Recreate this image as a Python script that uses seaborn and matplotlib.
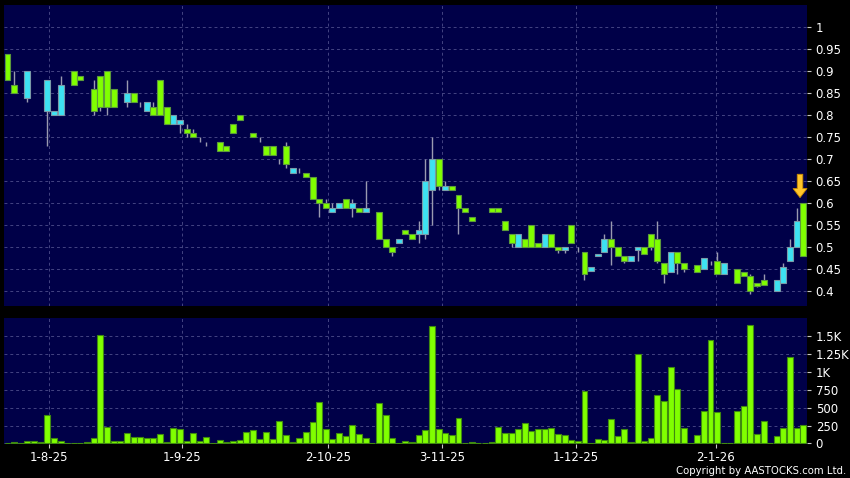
import numpy as np
import pandas as pd
import seaborn as sns
import matplotlib.pyplot as plt

# daily candles, oldest first (about 6 months)
opens = [0.94, 0.87, 0.90, 0.84, 0.85, 0.84, 0.81, 0.80, 0.80, 0.86,
         0.90, 0.89, 0.87, 0.86, 0.89, 0.90, 0.86, 0.83, 0.83, 0.85,
         0.83, 0.81, 0.82, 0.88, 0.82, 0.78, 0.78, 0.77, 0.76, 0.75,
         0.74, 0.74, 0.74, 0.73, 0.78, 0.80, 0.77, 0.76, 0.75, 0.73,
         0.73, 0.70, 0.73, 0.67, 0.68, 0.67, 0.66, 0.61, 0.60, 0.58,
         0.59, 0.61, 0.59, 0.59, 0.58, 0.59, 0.58, 0.52, 0.50, 0.51,
         0.54, 0.53, 0.53, 0.53, 0.63, 0.70, 0.63, 0.64, 0.62, 0.59,
         0.57, 0.58, 0.59, 0.59, 0.59, 0.56, 0.53, 0.50, 0.52, 0.55,
         0.51, 0.50, 0.53, 0.50, 0.493, 0.55, 0.50, 0.49, 0.447, 0.48,
         0.49, 0.52, 0.50, 0.48, 0.47, 0.495, 0.50, 0.53, 0.52, 0.465,
         0.445, 0.49, 0.465, 0.46, 0.46, 0.45, 0.47, 0.47, 0.44, 0.465,
         0.45, 0.445, 0.435, 0.42, 0.425, 0.415, 0.40, 0.42, 0.47, 0.50,
         0.60]
closes = [0.88, 0.85, 0.90, 0.90, 0.85, 0.84, 0.88, 0.81, 0.87, 0.86,
          0.87, 0.88, 0.87, 0.81, 0.82, 0.82, 0.82, 0.83, 0.85, 0.83,
          0.83, 0.83, 0.80, 0.80, 0.78, 0.80, 0.79, 0.76, 0.75, 0.75,
          0.74, 0.74, 0.72, 0.72, 0.76, 0.79, 0.77, 0.75, 0.75, 0.71,
          0.71, 0.70, 0.69, 0.68, 0.68, 0.66, 0.61, 0.60, 0.59, 0.59,
          0.60, 0.59, 0.60, 0.58, 0.59, 0.59, 0.52, 0.50, 0.49, 0.52,
          0.53, 0.52, 0.54, 0.65, 0.70, 0.64, 0.64, 0.63, 0.59, 0.58,
          0.56, 0.58, 0.59, 0.58, 0.58, 0.54, 0.51, 0.53, 0.50, 0.50,
          0.50, 0.53, 0.50, 0.493, 0.50, 0.51, 0.50, 0.44, 0.455, 0.485,
          0.52, 0.50, 0.48, 0.47, 0.48, 0.50, 0.485, 0.50, 0.47, 0.44,
          0.49, 0.465, 0.45, 0.46, 0.445, 0.475, 0.47, 0.44, 0.465, 0.465,
          0.42, 0.435, 0.40, 0.413, 0.415, 0.415, 0.425, 0.455, 0.50, 0.56,
          0.48]
highs = [0.94, 0.90, 0.90, 0.90, 0.85, 0.84, 0.88, 0.81, 0.89, 0.86,
         0.90, 0.89, 0.87, 0.88, 0.89, 0.90, 0.86, 0.83, 0.88, 0.85,
         0.83, 0.83, 0.83, 0.88, 0.82, 0.80, 0.79, 0.78, 0.77, 0.75,
         0.74, 0.74, 0.74, 0.73, 0.78, 0.80, 0.77, 0.76, 0.75, 0.73,
         0.73, 0.70, 0.74, 0.68, 0.68, 0.67, 0.66, 0.61, 0.61, 0.60,
         0.60, 0.61, 0.61, 0.59, 0.65, 0.59, 0.58, 0.52, 0.50, 0.52,
         0.54, 0.53, 0.56, 0.70, 0.75, 0.70, 0.65, 0.64, 0.62, 0.59,
         0.57, 0.58, 0.59, 0.59, 0.59, 0.56, 0.53, 0.53, 0.52, 0.55,
         0.51, 0.53, 0.53, 0.50, 0.50, 0.55, 0.50, 0.49, 0.455, 0.485,
         0.53, 0.56, 0.50, 0.48, 0.48, 0.50, 0.50, 0.53, 0.56, 0.465,
         0.49, 0.49, 0.465, 0.46, 0.46, 0.475, 0.47, 0.49, 0.465, 0.465,
         0.45, 0.445, 0.44, 0.42, 0.44, 0.415, 0.425, 0.465, 0.52, 0.59,
         0.60]
lows = [0.88, 0.85, 0.90, 0.83, 0.85, 0.84, 0.73, 0.80, 0.80, 0.86,
        0.87, 0.88, 0.87, 0.80, 0.81, 0.80, 0.82, 0.83, 0.82, 0.83,
        0.82, 0.81, 0.80, 0.80, 0.78, 0.78, 0.76, 0.75, 0.75, 0.74,
        0.73, 0.74, 0.72, 0.72, 0.76, 0.79, 0.77, 0.75, 0.74, 0.71,
        0.71, 0.69, 0.68, 0.67, 0.67, 0.66, 0.61, 0.57, 0.59, 0.58,
        0.59, 0.59, 0.57, 0.58, 0.58, 0.59, 0.52, 0.50, 0.48, 0.51,
        0.53, 0.52, 0.51, 0.52, 0.55, 0.63, 0.63, 0.63, 0.53, 0.58,
        0.56, 0.58, 0.59, 0.58, 0.58, 0.54, 0.50, 0.50, 0.50, 0.50,
        0.50, 0.50, 0.50, 0.488, 0.488, 0.51, 0.49, 0.425, 0.447, 0.48,
        0.49, 0.46, 0.48, 0.465, 0.47, 0.47, 0.485, 0.495, 0.465, 0.42,
        0.445, 0.44, 0.445, 0.46, 0.445, 0.45, 0.46, 0.44, 0.44, 0.465,
        0.42, 0.435, 0.395, 0.41, 0.415, 0.415, 0.40, 0.42, 0.47, 0.50,
        0.48]
volume = [0, 14, 0, 36, 36, 14, 396, 70, 36, 0,
          0, 0, 14, 70, 1510, 228, 36, 33, 140, 84,
          88, 70, 70, 130, 22, 210, 196, 40, 140, 36,
          93, 0, 46, 18, 32, 51, 153, 191, 56, 153,
          65, 307, 116, 18, 70, 153, 293, 577, 204, 60,
          148, 98, 251, 134, 79, 0, 563, 391, 70, 0,
          32, 25, 121, 186, 1636, 204, 140, 121, 358, 0,
          18, 0, 0, 22, 232, 148, 148, 204, 288, 172,
          204, 204, 218, 130, 112, 46, 37, 735, 0, 60,
          46, 340, 102, 204, 18, 1248, 28, 74, 680, 596,
          1062, 764, 214, 0, 121, 456, 1444, 433, 0, 0,
          447, 521, 1654, 126, 316, 0, 107, 209, 1202, 218,
          260]

date_pos = [6.2, 26.3, 48.4, 65.5, 85.7, 106.8]
date_labels = ['1-8-25', '1-9-25', '2-10-25', '3-11-25', '1-12-25', '2-1-26']
price_ticks = [0.4, 0.45, 0.5, 0.55, 0.6, 0.65, 0.7, 0.75, 0.8, 0.85, 0.9, 0.95, 1.0]
price_labels = ['0.4', '0.45', '0.5', '0.55', '0.6', '0.65', '0.7', '0.75',
                '0.8', '0.85', '0.9', '0.95', '1']
vol_ticks = [0, 250, 500, 750, 1000, 1250, 1500]
vol_labels = ['0', '250', '500', '750', '1K', '1.25K', '1.5K']

df = pd.DataFrame({'open': opens, 'high': highs, 'low': lows,
                   'close': closes, 'volume': volume})
df['idx'] = np.arange(len(df))

navy = '#000048'
green = '#80FF00'
cyan = '#3DE2F2'
grid_c = '#444482'
wick_c = '#9A9AB0'

sns.set_theme(style='dark', rc={'figure.facecolor': 'black',
                                'axes.facecolor': navy,
                                'text.color': 'white',
                                'xtick.color': 'white',
                                'ytick.color': 'white'})
plt.rcParams['font.family'] = ['DejaVu Sans']

fig = plt.figure(figsize=(8.5, 4.78), dpi=100)
ax = fig.add_axes([0.0047, 0.3598, 0.9451, 0.6297])
axv = fig.add_axes([0.0047, 0.0711, 0.9451, 0.2630])

# price candles: cyan = up day, green = down day, grey dash = unchanged
up = df[df['close'] > df['open']]
down = df[df['close'] < df['open']]
flat = df[df['close'] == df['open']]
w = 0.9
ax.vlines(df['idx'], df['low'], df['high'], color=wick_c, lw=1, zorder=2)
ax.bar(up['idx'], up['close'] - up['open'], bottom=up['open'], width=w,
       color=cyan, edgecolor='#7A9AA8', linewidth=0.8, zorder=3)
ax.bar(down['idx'], down['open'] - down['close'], bottom=down['close'], width=w,
       color=green, edgecolor='#5C9A3C', linewidth=0.8, zorder=3)
ax.hlines(flat['idx'] * 1.0, flat['idx'] - w / 2, flat['idx'] + w / 2, color=wick_c,
          lw=1.2, zorder=3)

# marker over the latest candle
last = df.iloc[-1]
ax.annotate('', xy=(last['idx'] - 0.5, last['high'] + 0.013),
            xytext=(last['idx'] - 0.5, last['high'] + 0.066),
            arrowprops=dict(arrowstyle='simple,head_width=1.0,head_length=0.65,tail_width=0.4',
                            fc='#FFC52A', ec='#C88A00', lw=0.6, mutation_scale=10,
                            shrinkA=0, shrinkB=0),
            zorder=5)

ax.set_xlim(-0.53, 120.6)
ax.set_ylim(0.3666, 1.0507)
ax.set_yticks(price_ticks)
ax.set_yticklabels(price_labels)
ax.set_xticks(date_pos)
ax.set_xticklabels([])

# volume bars
sns.barplot(data=df, x='idx', y='volume', native_scale=True, width=0.9,
            color=green, saturation=1, edgecolor='#3F8A10', linewidth=0.8,
            errorbar=None, ax=axv, zorder=3)
axv.set_xlim(-0.53, 120.6)
axv.set_ylim(-8, 1748)
axv.set_yticks(vol_ticks)
axv.set_yticklabels(vol_labels)
axv.set_xticks(date_pos)
axv.set_xticklabels(date_labels)
axv.set_xlabel('')
axv.set_ylabel('')

for a in (ax, axv):
    a.set_facecolor(navy)
    for s in a.spines.values():
        s.set_visible(False)
    a.yaxis.tick_right()
    a.grid(True, color=grid_c, linestyle=(0, (3, 3)), linewidth=0.7)
    a.set_axisbelow(True)
    a.tick_params(axis='y', which='both', right=True, left=False, length=3,
                  width=0.8, color='#C8C8C8', pad=3, labelsize=8.5,
                  labelcolor='white')
    a.tick_params(axis='x', bottom=True, length=3, width=0.8, color='#C8C8C8',
                  pad=2, labelsize=8.5, labelcolor='white')
ax.tick_params(axis='x', length=0)

fig.text(0.995, 0.004, 'Copyright by AASTOCKS.com Ltd.', ha='right', va='bottom',
         fontsize=7.3, color='white')

fig.savefig('out.png', dpi=100, facecolor='black')
